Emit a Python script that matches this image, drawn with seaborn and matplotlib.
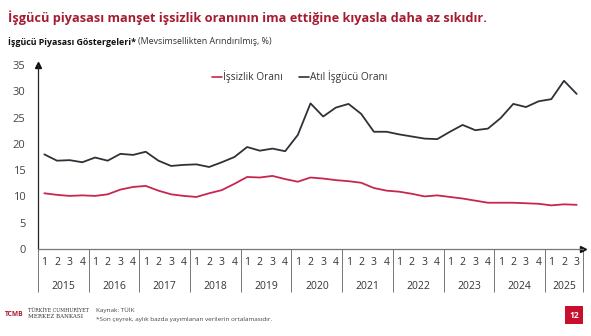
import matplotlib
matplotlib.use("Agg")
import matplotlib.pyplot as plt
import matplotlib.transforms as mtransforms
import numpy as np
import pandas as pd
import seaborn as sns

# Quarterly labour market indicators, seasonally adjusted (%)
years = ["2015", "2016", "2017", "2018", "2019", "2020",
         "2021", "2022", "2023", "2024", "2025"]
quarter_labels = [str(q) for y in years for q in (1, 2, 3, 4)][:43]

unemployment = [10.6, 10.3, 10.1, 10.2, 10.1, 10.4, 11.3, 11.8,
                12.0, 11.1, 10.4, 10.1, 9.9, 10.6, 11.2, 12.4,
                13.7, 13.6, 13.9, 13.3, 12.8, 13.6, 13.4, 13.1,
                12.9, 12.6, 11.6, 11.1, 10.9, 10.5, 10.0, 10.2,
                9.9, 9.6, 9.2, 8.8, 8.8, 8.8, 8.7, 8.6,
                8.3, 8.5, 8.4]
underutilization = [18.0, 16.8, 16.9, 16.5, 17.4, 16.8, 18.1, 17.9,
                    18.5, 16.8, 15.8, 16.0, 16.1, 15.6, 16.5, 17.5,
                    19.4, 18.7, 19.1, 18.6, 21.7, 27.7, 25.2, 26.9,
                    27.6, 25.7, 22.3, 22.3, 21.8, 21.4, 21.0, 20.9,
                    22.3, 23.6, 22.6, 22.9, 24.9, 27.6, 27.0, 28.1,
                    28.5, 32.0, 29.5]
series_names = ["İşsizlik Oranı", "Atıl İşgücü Oranı"]

df = pd.DataFrame({
    "t": list(range(43)) * 2,
    "value": unemployment + underutilization,
    "series": [series_names[0]] * 43 + [series_names[1]] * 43,
})

sns.set_theme(style="white")
plt.rcParams["font.family"] = ["Open Sans", "DejaVu Sans"]

RED = "#C8264F"
DARK = "#2E3238"
TITLE_RED = "#A51C30"

fig = plt.figure(figsize=(5.91, 3.36), dpi=100)
fig.patch.set_facecolor("white")
ax = fig.add_axes([38 / 591, 1 - 249 / 336, 545 / 591, 184 / 336])

sns.lineplot(data=df, x="t", y="value", hue="series",
             palette={series_names[0]: RED, series_names[1]: DARK},
             linewidth=1.3, ax=ax)

ax.set_xlim(-0.5, 42.5)
ax.set_ylim(0, 35)
ax.set_xlabel("")
ax.set_ylabel("")

# y axis
ax.set_yticks(np.arange(0, 36, 5))
ax.tick_params(axis="y", length=0, pad=9, labelsize=8, labelcolor="#444444")

for s in ("top", "right"):
    ax.spines[s].set_visible(False)
ax.spines["left"].set_color("#222222")
ax.spines["left"].set_linewidth(0.9)
ax.spines["bottom"].set_color("#777777")
ax.spines["bottom"].set_linewidth(0.9)

# quarter labels and quarter separators
ax.set_xticks(range(43))
ax.set_xticklabels(quarter_labels)
ax.set_xticks(np.arange(-0.5, 43, 1.0), minor=True)
ax.tick_params(axis="x", which="major", length=0, pad=6,
               labelsize=7.5, labelcolor="#333333")
ax.tick_params(axis="x", which="minor", length=15, width=0.7,
               color="#777777", direction="out")

# year separators (longer ticks)
year_edges = [-0.5 + 4 * i for i in range(11)] + [42.5]
sec = ax.secondary_xaxis("bottom")
sec.set_xticks(year_edges)
sec.set_xticklabels([])
sec.tick_params(length=31, width=0.7, color="#777777")
sec.spines["bottom"].set_visible(False)

# year labels centred under each group
trans = mtransforms.blended_transform_factory(ax.transData, ax.transAxes)
for i, y in enumerate(years):
    start = 4 * i - 0.5
    end = min(4 * i + 3.5, 42.5)
    ax.text((start + end) / 2, -0.205, y, transform=trans,
            ha="center", va="center", fontsize=7.5, color="#333333")

# axis arrows
ax.plot([0], [1.0], marker="^", color="#111111", markersize=4,
        transform=ax.transAxes, clip_on=False)
ax.plot([1.0], [0], marker=">", color="#111111", markersize=4,
        transform=ax.transAxes, clip_on=False)

# legend
leg = ax.legend(loc="upper center", bbox_to_anchor=(0.48, 1.02), ncol=2,
                frameon=False, fontsize=7.3, handlelength=1.0,
                handletextpad=0.1, columnspacing=1.6)
for line in leg.get_lines():
    line.set_linewidth(1.2)
for t in leg.get_texts():
    t.set_color("#333333")

# headline and subtitle
fig.text(8 / 591, 1 - 18 / 336,
         "İşgücü piyasası manşet işsizlik oranının ima ettiğine kıyasla daha az sıkıdır.",
         fontsize=9.2, fontweight="bold", color=TITLE_RED,
         ha="left", va="center")
t1 = fig.text(8 / 591, 1 - 42 / 336, "İşgücü Piyasası Göstergeleri*",
              fontsize=6.4, fontweight="bold", color="#111111",
              ha="left", va="center")
fig.canvas.draw()
bb = t1.get_window_extent()
fig.text(bb.x1 / fig.bbox.width + 2 / 591, 1 - 42 / 336,
         "(Mevsimsellikten Arındırılmış, %)",
         fontsize=6.4, color="#333333", ha="left", va="center")

# footer
fig.text(5 / 591, 1 - 314 / 336, "TCMB", fontsize=4.8, fontweight="bold",
         color=TITLE_RED, ha="left", va="center")
fig.text(28 / 591, 1 - 310 / 336, "TÜRKİYE CUMHURİYET", fontsize=3.4,
         family="DejaVu Serif", color="#333333", ha="left", va="center")
fig.text(28 / 591, 1 - 317 / 336, "MERKEZ BANKASI", fontsize=4.0,
         family="DejaVu Serif", color="#333333", ha="left", va="center")
fig.text(96 / 591, 1 - 310 / 336, "Kaynak: TÜİK", fontsize=4.6,
         color="#444444", ha="left", va="center")
fig.text(96 / 591, 1 - 320 / 336,
         "*Son çeyrek, aylık bazda yayımlanan verilerin ortalamasıdır.",
         fontsize=4.6, color="#444444", ha="left", va="center")
fig.text(574 / 591, 1 - 315 / 336, "12", fontsize=6, fontweight="bold",
         color="white", ha="center", va="center",
         bbox=dict(boxstyle="square,pad=0.55", fc="#C8102E", ec="none"))

fig.savefig("out.png", dpi=100, facecolor="white")
